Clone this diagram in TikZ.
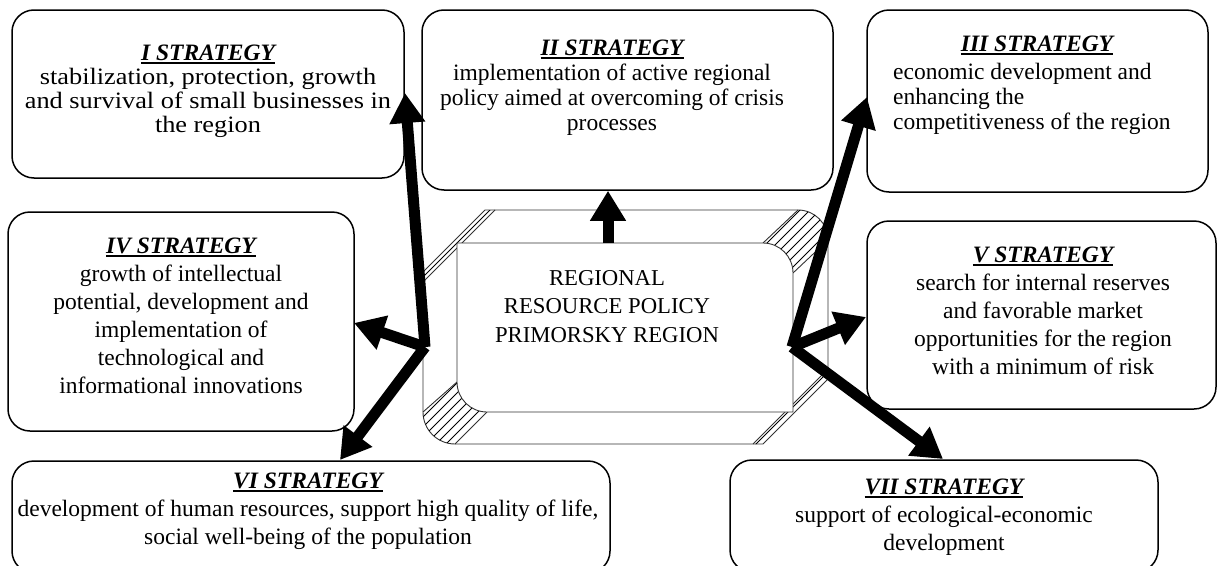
\documentclass[tikz,border=0pt]{standalone}
\usepackage{fontspec}
\setmainfont{Liberation Serif}
\newfontfamily\wideserif[FakeStretch=1.12]{Liberation Serif}
\usetikzlibrary{arrows.meta}
\newcommand\sttl[1]{\setbox0\hbox{\bfseries\itshape #1}\rlap{\rule[-3pt]{\wd0}{1.6pt}}\box0}
\begin{document}
\begin{tikzpicture}[x=1pt,y=-1pt,
  sbox/.style={draw, line width=1.5pt, rounded corners=22pt, inner sep=0pt},
  stxt/.style={inner sep=0pt, align=center, anchor=north, font=\fontsize{23.5}{28}\selectfont},
  ctxt/.style={inner sep=0pt, align=center, anchor=north, font=\fontsize{22.7}{28.5}\selectfont},
  bigarrow/.style={line width=11pt, -{Triangle[length=30pt,width=34pt]}},
  thinl/.style={line width=0.9pt, black!80}]
\useasboundingbox (0,0) rectangle (1218,565);
\fill[white] (0,0) rectangle (1218,565);

% strategy boxes
\node[sbox, minimum width=392pt, minimum height=168pt] (s1) at (208,94) {};
\node[sbox, minimum width=411pt, minimum height=180pt] (s2) at (627.5,100) {};
\node[sbox, minimum width=341pt, minimum height=182pt] (s3) at (1037.5,101) {};
\node[sbox, minimum width=346pt, minimum height=219pt] (s4) at (181,321.5) {};
\node[sbox, minimum width=349pt, minimum height=188pt] (s5) at (1041.5,315) {};
\node[sbox, minimum width=598pt, minimum height=112pt] (s6) at (311,517) {};
\node[sbox, minimum width=428pt, minimum height=112pt] (s7) at (944,516) {};

% texts
\node[stxt, font=\fontsize{23.5}{24}\selectfont] (x1) at (208,45) {\sttl{I STRATEGY}\\ {\wideserif stabilization, protection, growth}\\ {\wideserif and survival of small businesses in}\\ {\wideserif the region}};
\node[stxt, font=\fontsize{23.5}{25}\selectfont] (x2) at (612,40) {\sttl{II STRATEGY}\\ implementation of active regional\\ policy aimed at overcoming of crisis\\ processes};
\node[stxt] (x3) at (1037,36) {\sttl{III STRATEGY}};
\node[stxt, font=\fontsize{23.5}{25}\selectfont, align=left, anchor=north west] (x3b) at (893,63) {economic development and\\ enhancing the\\ competitiveness of the region};
\node[stxt] (x4) at (181,238) {\sttl{IV STRATEGY}\\ growth of intellectual\\ potential, development and\\ implementation of\\ technological and\\ informational innovations};
\node[stxt] (x5) at (1043,247) {\sttl{V STRATEGY}\\ search for internal reserves\\ and favorable market\\ opportunities for the region\\ with a minimum of risk};
\node[stxt] (x6) at (308,473) {\sttl{VI STRATEGY}\\ development of human resources, support high quality of life,\\ social well-being of the population};
\node[stxt] (x7) at (944,479) {\sttl{VII STRATEGY}\\ support of ecological-economic\\ development};

% central bevel shape
\draw[thinl, fill=white] (485,210) -- (798,210) arc[start angle=-90,end angle=0,radius=30]
  -- (828,379) -- (763,444) -- (455,444) arc[start angle=90,end angle=180,radius=32]
  -- (423,272) -- cycle;
\begin{scope}
\clip (423,272) -- (485,210) -- (495,210) -- (423,282) -- cycle
      (763,243) -- (798,210) arc[start angle=-90,end angle=0,radius=30] -- (793,273) arc[start angle=0,end angle=-90,radius=30] -- cycle
      (457,382) -- (423,412) arc[start angle=180,end angle=90,radius=32] -- (487,412) arc[start angle=90,end angle=180,radius=30] -- cycle
      (763,444) -- (828,379) -- (828,369) -- (753,444) -- cycle;
\foreach \c in {600,610,...,1300} \draw[line width=0.8pt] (\c-470,470) -- (\c-180,180);
\end{scope}
\draw[thinl] (495,210) -- (423,282);
\draw[thinl] (828,369) -- (753,444);
\draw[thinl] (763,243) -- (798,210);
\draw[thinl] (793,273) -- (828,240);
\draw[thinl] (457,382) -- (423,412);
\draw[thinl] (487,412) -- (455,444);
\draw[thinl, fill=white] (457,243) -- (763,243) arc[start angle=-90,end angle=0,radius=30]
  -- (793,412) -- (487,412) arc[start angle=90,end angle=180,radius=30] -- cycle;
\node[ctxt] (ctr) at (607,270) {REGIONAL\\ RESOURCE POLICY\\ PRIMORSKY REGION};

% connectors
\coordinate (ju) at (608,243);
\coordinate (jl) at (425,347);
\coordinate (jr) at (792,347);
\coordinate (t1) at (405,93);
\coordinate (t4) at (354,323);
\coordinate (t6) at (340,460);
\coordinate (t3) at (867,97);
\coordinate (t5) at (866,317);
\coordinate (t7) at (943,459);
\draw[bigarrow] (ju) -- (ju |- s2.south);
\draw[bigarrow] (jl) -- (t1);
\draw[bigarrow] (jl) -- (t4);
\draw[bigarrow] (jl) -- (t6);
\draw[bigarrow] (jr) -- (t3);
\draw[bigarrow] (jr) -- (t5);
\draw[bigarrow] (jr) -- (t7);
\end{tikzpicture}
\end{document}
